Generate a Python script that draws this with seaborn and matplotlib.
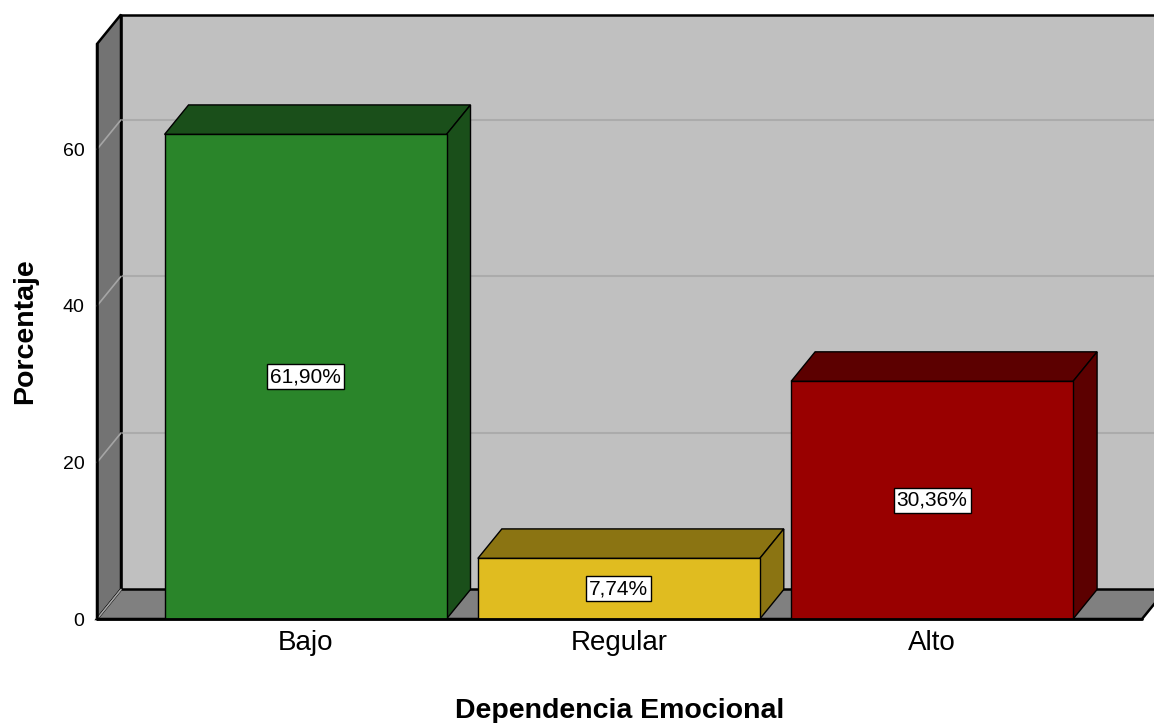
import pandas as pd
import matplotlib
matplotlib.use("Agg")
import matplotlib.pyplot as plt
from matplotlib.patches import Polygon
import seaborn as sns

# data
categorias = ["Bajo", "Regular", "Alto"]
porcentajes = [61.90, 7.74, 30.36]
colores_frente = ["#2a852a", "#e0bc20", "#990000"]
colores_sombra = ["#1a4f1a", "#8b7412", "#5c0000"]
yticks = [0, 20, 40, 60]

df = pd.DataFrame({"cat": categorias, "pct": porcentajes})

sns.set_style("white")
plt.rcParams["font.family"] = ["Liberation Sans", "DejaVu Sans"]
plt.rcParams["text.color"] = "black"
plt.rcParams["axes.labelcolor"] = "black"
plt.rcParams["xtick.color"] = "black"
plt.rcParams["ytick.color"] = "black"

W, H = 1154, 723
fig = plt.figure(figsize=(W / 100, H / 100), dpi=100)
ax = fig.add_axes([97 / W, 104 / H, (1142 - 97) / W, (619 - 44) / H])

sns.barplot(data=df, x="cat", y="pct", hue="cat", palette=colores_frente,
            width=0.9, edgecolor="black", linewidth=1, legend=False,
            saturation=1, ax=ax, zorder=5)

x0, x1 = -0.6656, 2.670
ymax = 73.45
ax.set_xlim(x0, x1)
ax.set_ylim(0, ymax)

# 3d depth offset in data units (24 px right, ~29.5 px up)
dx = 24 / 313.25
dy = 29.5 / 7.83

def poly(pts, fc, ec="black", lw=1.2, z=1):
    ax.add_patch(Polygon(pts, closed=True, facecolor=fc, edgecolor=ec,
                         linewidth=lw, clip_on=False, zorder=z))

# back wall
poly([(x0 + dx, dy), (x1 + dx + 1, dy), (x1 + dx + 1, ymax + dy), (x0 + dx, ymax + dy)],
     "#c0c0c0", lw=1.8, z=0)
# left wall
poly([(x0, 0), (x0 + dx, dy), (x0 + dx, ymax + dy), (x0, ymax)], "#737373", lw=1.8, z=1)
# floor
poly([(x0, 0), (x1, 0), (x1 + dx, dy), (x0 + dx, dy)], "#808080", lw=1.8, z=1)

# grid lines on walls
for t in yticks[1:]:
    ax.plot([x0 + dx, x1 + dx + 1], [t + dy, t + dy], color="#ababab", lw=1.5,
            clip_on=False, zorder=0.5)
    ax.plot([x0, x0 + dx], [t, t + dy], color="#a5a5a5", lw=1.2,
            clip_on=False, zorder=1.5)
ax.plot([x0, x0 + dx], [0, dy], color="#a5a5a5", lw=1.2, clip_on=False, zorder=1.5)

# bar tops and sides
half = 0.45
for i, v in enumerate(porcentajes):
    poly([(i - half, v), (i + half, v), (i + half + dx, v + dy), (i - half + dx, v + dy)],
         colores_sombra[i], lw=1, z=4)
    poly([(i + half, 0), (i + half + dx, dy), (i + half + dx, v + dy), (i + half, v)],
         colores_sombra[i], lw=1, z=4)
    ax.text(i, v / 2, f"{v:.2f}%".replace(".", ","), ha="center", va="center",
            fontsize=15, zorder=6,
            bbox=dict(boxstyle="square,pad=0.15", fc="white", ec="black", lw=1))

# front axis lines
ax.plot([x0, x1], [0, 0], color="black", lw=2, clip_on=False, zorder=7)
ax.plot([x0, x0], [0, ymax], color="black", lw=1.8, clip_on=False, zorder=7)

for s in ax.spines.values():
    s.set_visible(False)
ax.patch.set_visible(False)

ax.set_yticks(yticks)
ax.set_yticklabels([str(t) for t in yticks], fontsize=14)
ax.tick_params(axis="y", length=0, pad=9)
ax.tick_params(axis="x", length=0, pad=8, labelsize=20)
ax.set_xlabel("Dependencia Emocional", fontsize=20.5, fontweight="bold", labelpad=30)
ax.set_ylabel("Porcentaje", fontsize=20.5, fontweight="bold", labelpad=18)

fig.savefig("out.png", dpi=100)
